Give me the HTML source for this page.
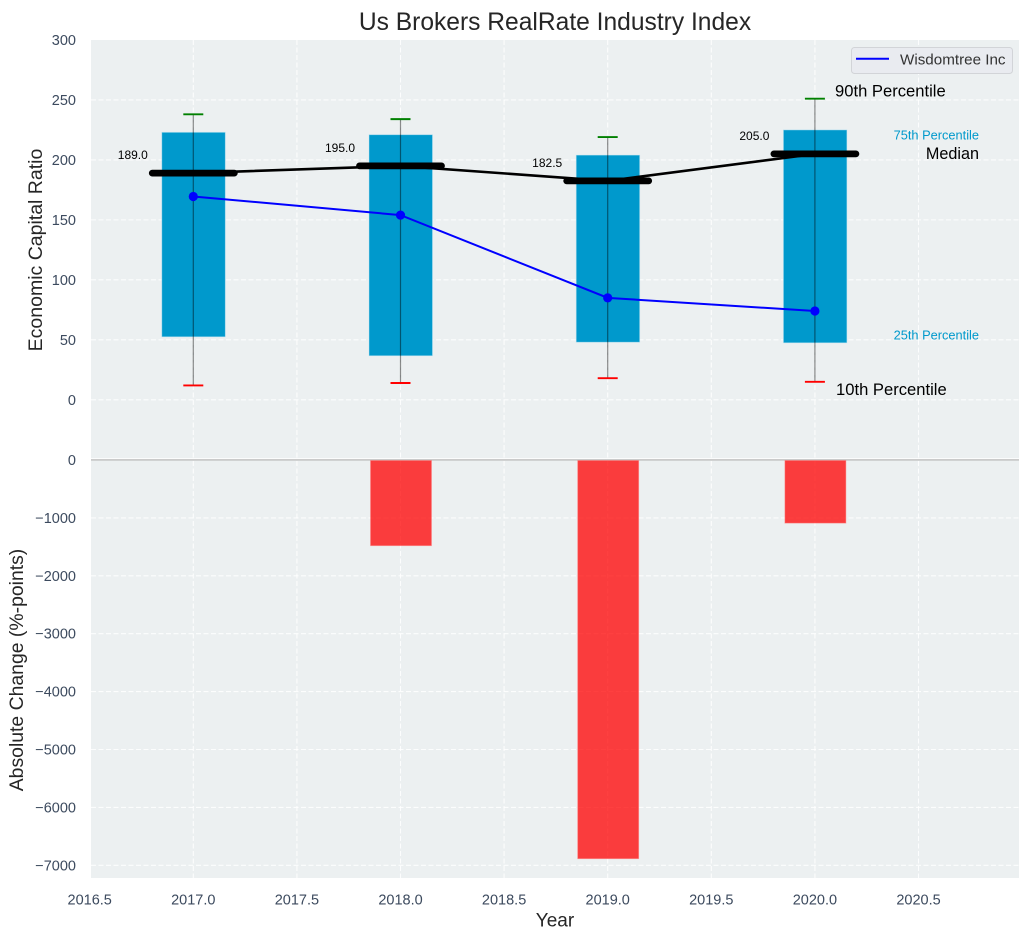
<!DOCTYPE html>
<html>
<head>
<meta charset="utf-8">
<title>Us Brokers RealRate Industry Index</title>
<style>
html,body{margin:0;padding:0;background:#fff;width:1029px;height:940px;overflow:hidden}
svg{display:block}
text{font-family:"Liberation Sans",Arial,sans-serif}
</style>
</head>
<body>
<svg id="chart" xmlns="http://www.w3.org/2000/svg" width="1029" height="940" viewBox="0 0 1029 940">
  <rect x="0" y="0" width="1029" height="940" fill="#ffffff"/>
  <rect x="91" y="40" width="928" height="418.2" fill="#ecf0f1"/>
  <rect x="91" y="460" width="928" height="418" fill="#ecf0f1"/>
  <g id="grid"></g>
  <g id="marks"></g>
  <g id="ticks"></g>
  <text x="555" y="30" font-size="24.6" fill="#262626" text-anchor="middle">Us Brokers RealRate Industry Index</text>
  <text x="555" y="926.7" font-size="19" fill="#262626" text-anchor="middle">Year</text>
  <text transform="translate(42,250) rotate(-90)" font-size="19.5" fill="#262626" text-anchor="middle">Economic Capital Ratio</text>
  <text transform="translate(23,670) rotate(-90)" font-size="19.4" fill="#262626" text-anchor="middle">Absolute Change (%-points)</text>
  <g>
    <rect x="851.5" y="47.5" width="161" height="26" rx="3" fill="#e9ebf0" stroke="#d2d4d8" stroke-width="1"/>
    <line x1="856" y1="58.7" x2="889" y2="58.7" stroke="#0000ff" stroke-width="2"/>
    <text x="900" y="64.5" font-size="15.2" fill="#333333">Wisdomtree Inc</text>
  </g>
</svg>
<script>
const years = [2017, 2018, 2019, 2020];
const p10 = [12, 14, 18, 15];
const p25 = [52.5, 36.7, 48, 47.5];
const p50 = [189, 195, 182.5, 205];
const p75 = [223, 221, 204, 225];
const p90 = [238, 234, 219, 251];
const wisdomtree = [169.5, 154, 85, 74];
const absChange = [0, -1480, -6886, -1090];
const xTicks = [2016.5, 2017, 2017.5, 2018, 2018.5, 2019, 2019.5, 2020, 2020.5];
const xTickLabels = ["2016.5", "2017.0", "2017.5", "2018.0", "2018.5", "2019.0", "2019.5", "2020.0", "2020.5"];
const topTicks = [0, 50, 100, 150, 200, 250, 300];
const topTickLabels = ["0", "50", "100", "150", "200", "250", "300"];
const bottomTicks = [0, -1000, -2000, -3000, -4000, -5000, -6000, -7000];
const bottomTickLabels = ["0", "\u22121000", "\u22122000", "\u22123000", "\u22124000", "\u22125000", "\u22126000", "\u22127000"];

const NS = "http://www.w3.org/2000/svg";
function xPos(v) { return 193.3 + (v - 2017) * 207.2; }
function yTop(v) { return 399.8 - v * 1.1995; }
function yBottom(v) { return 460 - v * 0.0579; }
function make(parent, tag, attrs, text) {
  const el = document.createElementNS(NS, tag);
  for (const k in attrs) el.setAttribute(k, attrs[k]);
  if (text !== undefined) el.textContent = text;
  parent.appendChild(el);
  return el;
}
const grid = document.getElementById("grid");
const marks = document.getElementById("marks");
const ticks = document.getElementById("ticks");
const gridStyle = { stroke: "#ffffff", "stroke-width": 1.1, "stroke-dasharray": "5 2.5", "stroke-opacity": 0.85 };

xTicks.forEach(function (t, i) {
  const x = xPos(t);
  if (x >= 91) {
    const a = make(grid, "line", Object.assign({ x1: x, x2: x, y1: 40, y2: 458 }, gridStyle));
    
    
    const b = make(grid, "line", Object.assign({ x1: x, x2: x, y1: 461, y2: 878 }, gridStyle));
    
    
  }
  const l = make(ticks, "text", { x: x, y: 904.3, "font-size": 14.5, fill: "#3c4a5e", "text-anchor": "middle" }, xTickLabels[i]);
  
  
});
topTicks.forEach(function (t, i) {
  const y = yTop(t);
  if (t < 300) {
    const g = make(grid, "line", Object.assign({ x1: 91, x2: 1019, y1: y, y2: y }, gridStyle));
    
    
  }
  const l = make(ticks, "text", { x: 76, y: y + 5, "font-size": 14.5, fill: "#3c4a5e", "text-anchor": "end" }, topTickLabels[i]);
  
  
});
bottomTicks.forEach(function (t, i) {
  const y = yBottom(t);
  if (t < 0) {
    const g = make(grid, "line", Object.assign({ x1: 91, x2: 1019, y1: y, y2: y }, gridStyle));
    
    
  }
  const l = make(ticks, "text", { x: 76, y: y + 5, "font-size": 14.5, fill: "#3c4a5e", "text-anchor": "end" }, bottomTickLabels[i]);
  
  
});

const zero = make(marks, "rect", { x: 91, y: 459.2, width: 928, height: 1.4, fill: "#bdbdbd" });



years.forEach(function (yr, i) {
  const x = xPos(yr);
  const t = yTop(p75[i]);
  const b = yTop(p25[i]);
  const box = make(marks, "rect", { x: x - 31.5, y: t, width: 63.5, height: b - t, fill: "#0099cc", stroke: "#bfe5f2", "stroke-opacity": 0.6, "stroke-width": 0.8 });
  
  
  if (absChange[i] !== 0) {
    const h = yBottom(absChange[i]) - 460.5;
    const red = make(marks, "rect", { x: x - 30, y: 460.5, width: 61, height: h, fill: "#ff0000", "fill-opacity": 0.75, stroke: "#ff8080", "stroke-opacity": 0.6, "stroke-width": 0.8 });
    
    
  }
});

const medianPath = years.map(function (yr, i) { return xPos(yr) + "," + yTop(p50[i]); }).join(" ");
const medianLine = make(marks, "polyline", { points: medianPath, fill: "none", stroke: "#000000", "stroke-width": 2.6 });



years.forEach(function (yr, i) {
  const x = xPos(yr);
  const whisker = make(marks, "line", { x1: x, x2: x, y1: yTop(p90[i]), y2: yTop(p10[i]), stroke: "#000000", "stroke-opacity": 0.45, "stroke-width": 1.2 });
  
  
  const capHi = make(marks, "line", { x1: x - 10, x2: x + 10, y1: yTop(p90[i]), y2: yTop(p90[i]), stroke: "#008000", "stroke-width": 1.9 });
  
  
  const capLo = make(marks, "line", { x1: x - 10, x2: x + 10, y1: yTop(p10[i]), y2: yTop(p10[i]), stroke: "#ff0000", "stroke-width": 1.9 });
  
  
  const med = make(marks, "line", { x1: x - 41, x2: x + 41, y1: yTop(p50[i]), y2: yTop(p50[i]), stroke: "#000000", "stroke-width": 6.8, "stroke-linecap": "round" });
  
  
  const lab = make(marks, "text", { x: x - 60.5, y: yTop(p50[i]) - 14, "font-size": 12, fill: "#000000", "text-anchor": "middle" }, p50[i].toFixed(1));
  
  
});

const bluePath = years.map(function (yr, i) { return xPos(yr) + "," + yTop(wisdomtree[i]); }).join(" ");
const blueLine = make(marks, "polyline", { points: bluePath, fill: "none", stroke: "#0000ff", "stroke-width": 2 });


years.forEach(function (yr, i) {
  const dot = make(marks, "circle", { cx: xPos(yr), cy: yTop(wisdomtree[i]), r: 4.6, fill: "#0000ff" });
  
  
});

const last = years.length - 1;
const a90 = make(marks, "text", { x: 835, y: yTop(p90[last]) - 2, "font-size": 16.6, fill: "#000000" }, "90th Percentile");


const a75 = make(marks, "text", { x: 979, y: yTop(p75[last]) + 9.8, "font-size": 12.8, fill: "#0099cc", "text-anchor": "end" }, "75th Percentile");


const a50 = make(marks, "text", { x: 979, y: yTop(p50[last]) + 5, "font-size": 16.2, fill: "#000000", "text-anchor": "end" }, "Median");


const a25 = make(marks, "text", { x: 979, y: yTop(p25[last]) - 3.5, "font-size": 12.8, fill: "#0099cc", "text-anchor": "end" }, "25th Percentile");


const a10 = make(marks, "text", { x: 836, y: yTop(p10[last]) + 13, "font-size": 16.6, fill: "#000000" }, "10th Percentile");


</script>
</body>
</html>
